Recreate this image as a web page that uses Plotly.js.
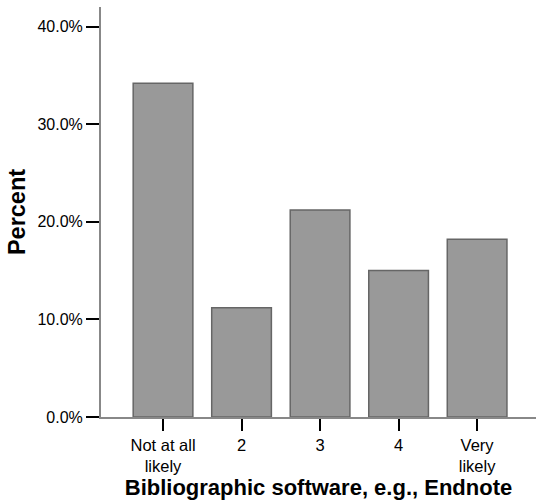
<!DOCTYPE html>
<html>
<head>
<meta charset="utf-8">
<script src="https://cdn.plot.ly/plotly-3.0.1.min.js"></script>
<style>html,body{margin:0;padding:0;background:#fff;}#chart{width:536px;height:504px;}</style>
</head>
<body>
<div id="chart"></div>
<script>
const categories = ["Not at all<br>likely", "2", "3", "4", "Very<br>likely"];
const percentValues = [34.2, 11.2, 21.2, 15.0, 18.2];
const yTickValues = [0, 10, 20, 30, 40];
const yTickLabels = ["0.0%", "10.0%", "20.0%", "30.0%", "40.0%"];

const trace = {
  type: "bar",
  x: [0, 1, 2, 3, 4],
  y: percentValues,
  width: 0.76,
  marker: {color: "#999999", line: {color: "#666666", width: 1.5}},
  hoverinfo: "none"
};

const layout = {
  width: 536, height: 504,
  margin: {l: 101, r: 0, t: 7, b: 87},
  paper_bgcolor: "#ffffff", plot_bgcolor: "#ffffff",
  font: {family: "Liberation Sans, Arial, sans-serif", color: "#000", size: 16},
  showlegend: false,
  xaxis: {
    range: [-0.79, 4.75],
    tickmode: "array", tickvals: [0, 1, 2, 3, 4], ticktext: categories,
    showline: true, linecolor: "#888888", linewidth: 2,
    ticks: "outside", ticklen: 12, tickwidth: 2, tickcolor: "#000",
    showgrid: false, zeroline: false,
    tickfont: {size: 16.5},
    title: {text: "<b>Bibliographic software, e.g., Endnote</b>", font: {size: 22}, standoff: 1}
  },
  yaxis: {
    range: [0, 42.0],
    tickmode: "array", tickvals: yTickValues, ticktext: yTickLabels,
    showline: true, linecolor: "#888888", linewidth: 2,
    ticks: "outside", ticklen: 13, tickwidth: 2, tickcolor: "#000",
    showgrid: false, zeroline: false,
    tickfont: {size: 16},
    title: {text: "<b>Percent</b>", font: {size: 23.5}, standoff: 5}
  }
};

Plotly.newPlot("chart", [trace], layout, {displayModeBar: false, staticPlot: true});
</script>
</body>
</html>
